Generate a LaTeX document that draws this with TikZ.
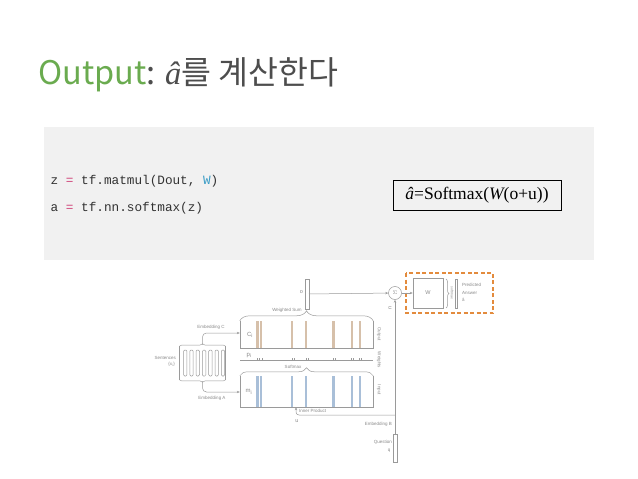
\documentclass[tikz,border=0pt]{standalone}
\usepackage{fontspec}
\setmainfont{Liberation Sans}
\newfontfamily\kr{Noto Sans CJK KR}
\newfontfamily\mono{Liberation Mono}
\newfontfamily\serif{Liberation Serif}
\usetikzlibrary{decorations.pathreplacing,arrows.meta,calc}
\definecolor{titlegreen}{HTML}{6AAB4F}
\definecolor{titlegray}{HTML}{4D4D4D}
\definecolor{codebg}{HTML}{F1F1F1}
\definecolor{codetxt}{HTML}{333333}
\definecolor{codepink}{HTML}{D0457A}
\definecolor{codeblue}{HTML}{3A9CC6}
\definecolor{dline}{HTML}{9A9A9A}
\definecolor{dtext}{HTML}{8A8A8A}
\definecolor{brownstripe}{HTML}{D6C0AA}
\definecolor{bluestripe}{HTML}{A9BFD8}
\definecolor{orangedash}{HTML}{E38B3D}
\tikzset{
  dl/.style={draw=dline, line width=0.5pt},
  lbl/.style={font=\fontsize{4.5}{5}\selectfont, text=dtext, inner sep=0},
  arr/.style={dl, -{Stealth[length=3pt,width=2.4pt]}},
  brc/.style={dl, decorate, decoration={brace, amplitude=#1}},
  bar/.style={dl, inner sep=0, minimum width=3.5},
  cstripe/.style={fill=brownstripe, draw=none},
  mstripe/.style={fill=bluestripe, draw=none},
}
\begin{document}
\begin{tikzpicture}[x=1pt,y=-1pt]
\useasboundingbox[fill=white] (0,0) rectangle (638,479);
% title
\node[anchor=base west, inner sep=0] (title) at (38,84)
  {\kr\fontsize{32.5}{36}\selectfont\textcolor{titlegreen}{Output}\textcolor{titlegray}{: {\serif\itshape â}를 계산한다}};
% code box
\fill[codebg] (44,127) rectangle (594,260);
\node[anchor=base west, inner sep=0, text=codetxt] (code1) at (50.5,184.5)
  {\mono\fontsize{12.7}{14}\selectfont z \textcolor{codepink}{=} tf.matmul(Dout, \textcolor{codeblue}{W})};
\node[anchor=base west, inner sep=0, text=codetxt] (code2) at (50.5,211.5)
  {\mono\fontsize{12.7}{14}\selectfont a \textcolor{codepink}{=} tf.nn.softmax(z)};
\node[draw=black, line width=0.9pt, minimum width=168, minimum height=30, inner sep=0] (formula) at (477,195)
  {\serif\fontsize{17.5}{19}\selectfont {\itshape â}=Softmax({\itshape W}(o+u))};

% ---- diagram ----
% C box
\node[inner sep=0, minimum width=133, minimum height=27] (cbox) at (306.5,334.5) {};
\foreach \x/\w in {256/2.6,259.5/2.6,290.5/2.6,304.5/2.6,332/2.6,350.5/2.6,358.5/2.6}
  \fill[cstripe] (\x,321) rectangle ++(\w,27);
\draw[dl] (cbox.north west) -- (cbox.south west) -- (cbox.south east) -- (cbox.north east);
\draw[brc=10] (cbox.north west) -- (cbox.north east);
\node[lbl, font=\fontsize{6}{7}\selectfont] (clab) at (250,335) {C\textsubscript{i}};
\node[lbl] (wsum) at (287,310) {Weighted Sum};
\node[lbl, rotate=-90] (outlab) at (379,334) {Output};

% p line
\coordinate (pl) at (240,360);
\coordinate (pr) at (373,360);
\draw[dl] (pl) -- (pr);
\foreach \x in {257.5,259.5,262,292,294,306,308,333,335,351,353,359,361}
  \draw[dl] (\x,358) -- (\x,360);
\node[lbl, font=\fontsize{6}{7}\selectfont] (plab) at (249,355.5) {p\textsubscript{i}};
\node[lbl, rotate=-90] (wlab) at (379,360) {Weights};

% m box
\node[inner sep=0, minimum width=133, minimum height=31] (mbox) at (306.5,391.5) {};
\foreach \x/\w in {256/2.6,259.5/2.6,290.5/2.6,304.5/2.6,332/2.6,350.5/2.6,358.5/2.6}
  \fill[mstripe] (\x,376) rectangle ++(\w,31);
\draw[dl] (mbox.north west) -- (mbox.south west) -- (mbox.south east) -- (mbox.north east);
\draw[brc=8] (mbox.north west) -- (mbox.north east);
\node[lbl, font=\fontsize{6}{7}\selectfont] (mlab) at (249,392) {m\textsubscript{i}};
\node[lbl] (smax) at (293,366.5) {Softmax};
\node[lbl, rotate=-90] (inlab) at (379,390) {Input};

% o bar
\node[bar, minimum height=30] (obar) at (307,294) {};
\node[lbl, font=\fontsize{5.5}{6}\selectfont] (olab) at (301.5,292) {o};

% sum circle
\node[dl, circle, minimum size=13, inner sep=0, font=\fontsize{5}{6}\selectfont, text=dtext] (sum) at (395,293) {$\Sigma$};
\draw[arr] (obar) -- (sum);
\node[lbl, rotate=-90, font=\fontsize{5.5}{6}\selectfont] (ulab) at (390,308) {u};

% question
\node[bar, minimum height=28] (q) at (395,448.5) {};
\draw[arr] (q) -- (sum);
\node[lbl, anchor=east] (embB) at (392,424) {Embedding B};
\node[lbl, anchor=east] (qlab) at (392,442.5) {Question};
\node[lbl] (qq) at (389,450.5) {q};
\coordinate (ipc) at (395,415);
\draw[arr, rounded corners=3] (ipc) -- (296,415) -- (mbox.south -| 296,0);
\node[lbl, anchor=west] (iplab) at (299,410.5) {Inner Product};
\node[lbl, font=\fontsize{5.5}{6}\selectfont] (ulab2) at (297,421) {u};

% sentences
\node[inner sep=0, minimum width=46, minimum height=36] (sent) at (202.5,363) {};
\draw[brc=2.5] ($(sent.north west)+(0,1.5)$) -- ($(sent.north east)+(0,1.5)$);
\draw[brc=2.5] ($(sent.south east)-(0,1.5)$) -- ($(sent.south west)-(0,1.5)$);
\draw[dl] ($(sent.north west)+(0,1.5)$) -- ($(sent.south west)-(0,1.5)$);
\draw[dl] ($(sent.north east)+(0,1.5)$) -- ($(sent.south east)-(0,1.5)$);
\foreach \k in {0,...,6}
  \draw[dl, rounded corners=1.2] (183.5+6.3*\k,350) rectangle ++(3.4,26);
\node[lbl, anchor=east] (sentlab) at (176,358) {Sentences};
\node[lbl, anchor=east] (xlab) at (175,364.5) {\{x\textsubscript{i}\}};
\draw[arr, rounded corners=4] (sent.north) -- (202.5,333) -- (cbox.west |- 0,333);
\draw[arr, rounded corners=4] (sent.south) -- (202.5,392) -- (mbox.west |- 0,392);
\node[lbl] (embC) at (211,327) {Embedding C};
\node[lbl] (embA) at (212,398) {Embedding A};

% predicted answer
\draw[orangedash, dashed, line width=1.6pt, dash pattern=on 4pt off 2.5pt] (406,273) rectangle (493,313);
\node[dl, minimum width=30, minimum height=30, inner sep=0, font=\fontsize{5.5}{6}\selectfont, text=dtext] (W) at (428,293) {W};
\draw[arr] (sum) -- (W);
\draw[brc=3] (446,279) -- (446,308);
\node[lbl, rotate=-90, font=\fontsize{3.5}{4}\selectfont] (smlab) at (452,293) {softmax};
\node[bar, minimum width=2.5, minimum height=29] (abar) at (456,293.5) {};
\node[lbl, anchor=west] (pa1) at (462,285) {Predicted};
\node[lbl, anchor=west] (pa2) at (462,292.5) {Answer};
\node[lbl, anchor=west] (pa3) at (462,300) {â};
\end{tikzpicture}
\end{document}
